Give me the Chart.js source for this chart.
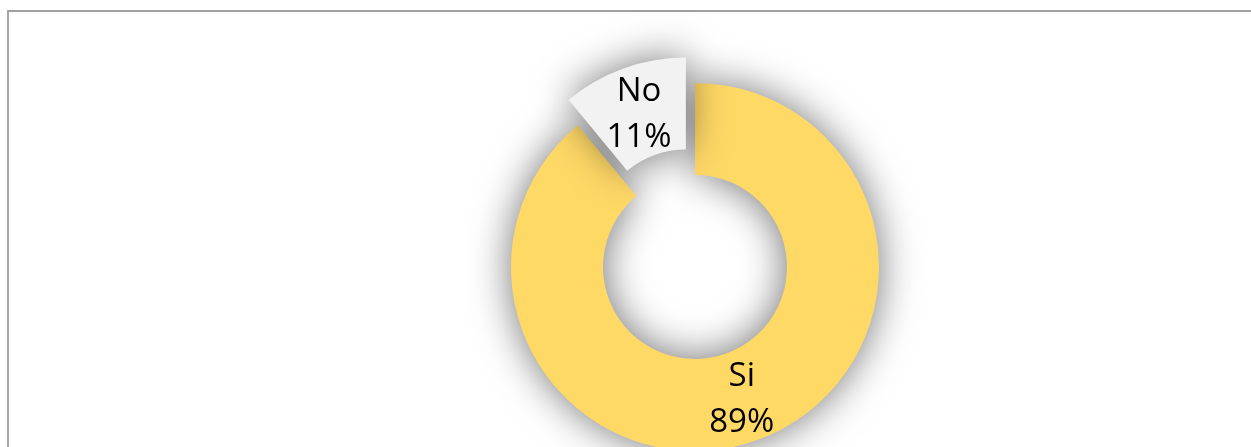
<!DOCTYPE html>
<html lang="es">

<head>
    <meta charset="UTF-8" />
    <title>Si / No</title>
    <script src="https://cdn.jsdelivr.net/npm/chart.js"></script>
    <style>
        html, body { margin: 0; padding: 0; background: #fff; overflow: hidden; }
        #wrap { position: relative; width: 1251px; height: 447px; overflow: hidden; }
        #frame {
            position: absolute; left: 7px; top: 10px; width: 1300px; height: 500px;
            border-left: 2px solid #a6a6a6; border-top: 2px solid #a0a0a0;
        }
        #chartBox { position: absolute; left: 0; top: 0; width: 1251px; height: 447px; }
    </style>
</head>

<body>
    <div id="wrap">
        <div id="frame"></div>
        <div id="chartBox"><canvas id="pie"></canvas></div>
    </div>

    <script>
        const labels = ['Si', 'No'];
        const values = [89, 11];
        const colors = ['#FFD966', '#F2F2F2'];
        const explode = [0, 27];

        // draw each slice with a soft shadow, pulling exploded slices outward
        const shadowSlices = {
            id: 'shadowSlices',
            beforeDatasetDraw(chart, args, opts) {
                const ctx = chart.ctx;
                args.meta.data.forEach((arc, i) => {
                    const mid = (arc.startAngle + arc.endAngle) / 2;
                    const d = opts.explode[i] || 0;
                    ctx.save();
                    ctx.shadowColor = opts.color;
                    ctx.shadowBlur = opts.blur;
                    ctx.translate(Math.cos(mid) * d, Math.sin(mid) * d);
                    arc.draw(ctx);
                    ctx.restore();
                });
                return false;
            }
        };

        const sliceLabels = {
            id: 'sliceLabels',
            afterDatasetsDraw(chart, args, opts) {
                const ctx = chart.ctx;
                const data = chart.data.datasets[0].data;
                const total = data.reduce((a, b) => a + b, 0);
                chart.getDatasetMeta(0).data.forEach((arc, i) => {
                    const mid = (arc.startAngle + arc.endAngle) / 2;
                    const r = (arc.innerRadius + arc.outerRadius) / 2 + (opts.explode[i] || 0);
                    const x = arc.x + Math.cos(mid) * r;
                    const y = arc.y + Math.sin(mid) * r;
                    ctx.save();
                    ctx.font = '33px "Open Sans", "Noto Sans", sans-serif';
                    ctx.fillStyle = '#000';
                    ctx.textAlign = 'center';
                    ctx.textBaseline = 'alphabetic';
                    ctx.fillText(chart.data.labels[i], x, y - 11);
                    ctx.fillText(Math.round(data[i] / total * 100) + '%', x, y + 35);
                    ctx.restore();
                });
            }
        };

        new Chart(document.getElementById('pie'), {
            type: 'doughnut',
            data: {
                labels: labels,
                datasets: [{
                    data: values,
                    backgroundColor: colors,
                    borderWidth: 0,
                    clip: false
                }]
            },
            options: {
                responsive: true,
                maintainAspectRatio: false,
                animation: false,
                radius: 184,
                cutout: '50%',
                layout: { padding: { left: 139, right: 0, top: 87, bottom: 0 } },
                plugins: {
                    legend: { display: false },
                    tooltip: { enabled: false },
                    shadowSlices: { explode: explode, color: 'rgba(0,0,0,0.55)', blur: 40 },
                    sliceLabels: { explode: explode }
                }
            },
            plugins: [shadowSlices, sliceLabels]
        });
    </script>
</body>

</html>
